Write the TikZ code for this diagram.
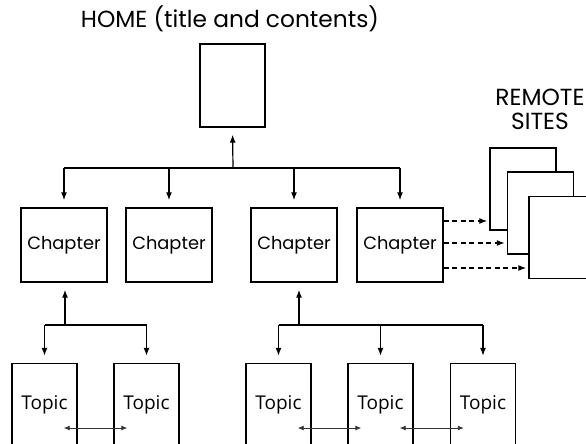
\documentclass[tikz,border=0pt]{standalone}
\usepackage{fontspec}
\usepackage{tikz}
\usetikzlibrary{arrows.meta}
\newfontfamily\gothicfont{Poppins}
\newfontfamily\topicfont{Open Sans}

\begin{document}
\begin{tikzpicture}[
    x=1pt, y=-1pt,
    page/.style={draw, line width=1.4pt, fill=white, minimum width=65pt, minimum height=83pt, inner sep=0pt},
    chapter box/.style={draw, line width=1.4pt, minimum width=86pt, minimum height=74pt, inner sep=0pt,
        font=\gothicfont\fontsize{17.8}{20}\selectfont},
    topic box/.style={page, font=\topicfont\fontsize{19}{22}\selectfont},
    label text/.style={font=\gothicfont\fontsize{23.3}{24}\selectfont, align=center, inner sep=0pt},
    arr/.style={line width=1.2pt, -{Latex[length=8pt,width=6pt]}, shorten >=7pt},
    link/.style={line width=0.9pt, black!80, {Latex[length=6pt,width=5pt]}-{Latex[length=6pt,width=5pt]}},
    remote/.style={line width=1.2pt, dash pattern=on 5pt off 3.5pt, -{Latex[length=8pt,width=6pt]}, shorten >=2pt}
]
    \useasboundingbox (0,0) rectangle (586,444);
    \def\ychap{245}
    \def\ytopic{405}

    \node[label text, anchor=base] (title) at (230,28) {HOME (title and contents)};
    \node[page] (home) at (232.5,85.5) {};

    \node[chapter box] (ch1) at (64,\ychap) {Chapter};
    \node[chapter box] (ch2) at (169,\ychap) {Chapter};
    \node[chapter box] (ch3) at (294,\ychap) {Chapter};
    \node[chapter box] (ch4) at (400,\ychap) {Chapter};

    \node[topic box] (t1) at (44.5,\ytopic) {Topic};
    \node[topic box] (t2) at (146.5,\ytopic) {Topic};
    \node[topic box] (t3) at (278.5,\ytopic) {Topic};
    \node[topic box] (t4) at (380.5,\ytopic) {Topic};
    \node[topic box] (t5) at (483,\ytopic) {Topic};

    % remote sites, back to front
    \node[label text] (sites) at (540,109) {REMOTE\\SITES};
    \node[page, minimum width=66pt, minimum height=82pt] (r1) at (523,189) {};
    \node[page, minimum width=66pt, minimum height=82pt] (r2) at (540.5,213) {};
    \node[page, minimum width=66pt, minimum height=82pt] (r3) at (562,237.5) {};

    % home to chapters
    \coordinate (hbus) at (233,168);
    \draw[arr] (hbus) -- (home.south);
    \draw[line width=1.2pt] (ch1.north |- hbus) -- (ch4.north |- hbus);
    \foreach \c in {ch1,ch2,ch3,ch4}
        \draw[arr] (\c.north |- hbus) -- (\c.north);

    % chapters to topics
    \coordinate (bus1) at (65,325);
    \coordinate (bus3) at (299,325);
    \draw[arr] (bus1) -- (bus1 |- ch1.south);
    \draw[arr] (bus3) -- (bus3 |- ch3.south);
    \draw[line width=1.2pt] (t1.north |- bus1) -- (t2.north |- bus1);
    \draw[line width=1.2pt] (t3.north |- bus3) -- (t5.north |- bus3);
    \foreach \t in {t1,t2}
        \draw[arr] (\t.north |- bus1) -- (\t.north);
    \foreach \t in {t3,t4,t5}
        \draw[arr] (\t.north |- bus3) -- (\t.north);

    % links between topics
    \draw[link] ([xshift=-14pt,yshift=-23pt]t1.east) -- ([xshift=14pt,yshift=-23pt]t2.west);
    \draw[link] ([xshift=-14pt,yshift=-23pt]t3.east) -- ([xshift=14pt,yshift=-23pt]t4.west);
    \draw[link] ([xshift=-14pt,yshift=-23pt]t4.east) -- ([xshift=14pt,yshift=-23pt]t5.west);

    % links to remote sites
    \coordinate (d1) at ([yshift=24pt]ch4.east);
    \coordinate (d2) at ([yshift=2pt]ch4.east);
    \coordinate (d3) at ([yshift=-23pt]ch4.east);
    \draw[remote] (d1) -- (d1 -| r1.west);
    \draw[remote] (d2) -- (d2 -| r2.west);
    \draw[remote] (d3) -- (d3 -| r3.west);
\end{tikzpicture}
\end{document}
